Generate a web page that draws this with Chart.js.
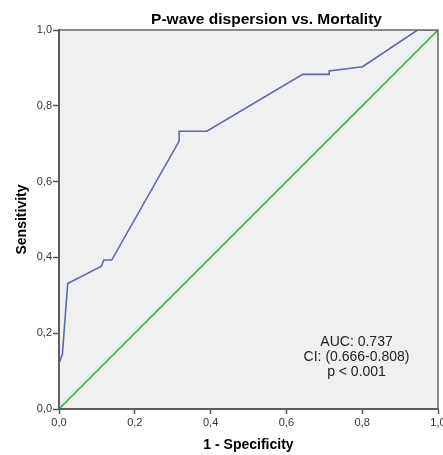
<!DOCTYPE html>
<html>
<head>
	<meta charset="UTF-8">
	<title>P-wave dispersion vs. Mortality</title>
	<script src="https://cdn.jsdelivr.net/npm/chart.js@4"></script>
	<style>
		html, body { margin: 0; padding: 0; background: #ffffff; }
		#wrap { width: 443px; height: 455px; }
	</style>
</head>
<body>
	<div id="wrap"><canvas id="rocChart" width="443" height="455"></canvas></div>
<script>
	// ROC curve (1 - specificity, sensitivity)
	var rocFpr = [0, 0, 0.009, 0.023, 0.112, 0.118, 0.139, 0.317, 0.317, 0.39, 0.643, 0.713, 0.713, 0.801, 0.946, 1.0];
	var rocTpr = [0, 0.12, 0.145, 0.331, 0.377, 0.393, 0.393, 0.707, 0.733, 0.733, 0.883, 0.883, 0.892, 0.903, 1.0, 1.0];
	// reference line
	var refFpr = [0, 1];
	var refTpr = [0, 1];
	var axisTicks = [0, 0.2, 0.4, 0.6, 0.8, 1.0];
	var chartTitle = "P-wave dispersion vs. Mortality";
	var noteLines = ["AUC: 0.737", "CI: (0.666-0.808)", "p < 0.001"];

	function toPoints(xs, ys) {
		var pts = [];
		for (var i = 0; i < xs.length; i++) pts.push({ x: xs[i], y: ys[i] });
		return pts;
	}
	function comma(v) {
		return Number(v).toFixed(1).replace(".", ",");
	}

	var fontFam = "'Liberation Sans', Arial, sans-serif";

	// plot background, frame, title and AUC note
	var decor = {
		id: "decor",
		beforeDraw: function (chart) {
			var a = chart.chartArea, ctx = chart.ctx;
			ctx.save();
			ctx.fillStyle = "#f0f0f0";
			ctx.fillRect(a.left, a.top, a.right - a.left, a.bottom - a.top);
			ctx.restore();
		},
		afterDraw: function (chart) {
			var a = chart.chartArea, ctx = chart.ctx;
			ctx.save();
			ctx.strokeStyle = "#666666";
			ctx.lineWidth = 1.5;
			ctx.strokeRect(a.left, a.top, a.right - a.left, a.bottom - a.top);

			ctx.fillStyle = "#000000";
			ctx.font = "bold 15.5px " + fontFam;
			ctx.textAlign = "center";
			ctx.textBaseline = "middle";
			ctx.fillText(chartTitle, (a.left + a.right) / 2 + 18, 20);

			var xs = chart.scales.x, ys = chart.scales.y;
			ctx.font = "14px " + fontFam;
			ctx.fillStyle = "#222222";
			var cx = xs.getPixelForValue(0.785);
			var cy = ys.getPixelForValue(0.137);
			for (var i = 0; i < noteLines.length; i++) {
				ctx.fillText(noteLines[i], cx, cy + (i - 1) * 15);
			}
			ctx.restore();
		}
	};

	var ctx = document.getElementById("rocChart").getContext("2d");
	var rocChart = new Chart(ctx, {
		type: "scatter",
		data: {
			datasets: [
				{
					data: toPoints(refFpr, refTpr),
					showLine: true,
					borderColor: "#3daf5b",
					borderWidth: 1.6,
					pointRadius: 0,
					tension: 0
				},
				{
					data: toPoints(rocFpr, rocTpr),
					showLine: true,
					borderColor: "#5d69a9",
					borderWidth: 1.6,
					pointRadius: 0,
					tension: 0
				}
			]
		},
		options: {
			responsive: false,
			animation: false,
			devicePixelRatio: 1,
			layout: { padding: { top: 30, left: 0, right: 5, bottom: 0 } },
			plugins: {
				legend: { display: false },
				title: { display: false },
				tooltip: { enabled: false }
			},
			scales: {
				x: {
					type: "linear",
					min: 0,
					max: 1,
					afterBuildTicks: function (s) { s.ticks = axisTicks.map(function (v) { return { value: v }; }); },
					afterFit: function (s) { s.height = 46; s.paddingLeft = 0; s.paddingRight = 0; },
					ticks: {
						callback: comma,
						color: "#333333",
						padding: 2,
						maxRotation: 0,
						font: { family: fontFam, size: 11 }
					},
					grid: { drawOnChartArea: false, drawTicks: true, tickLength: 5, color: "#555555", tickWidth: 1.5 },
					border: { display: true, color: "#444444", width: 2 },
					title: {
						display: true,
						text: "1 - Specificity",
						color: "#000000",
						font: { family: fontFam, size: 14, weight: "bold" },
						padding: { top: 0, bottom: 1 }
					}
				},
				y: {
					type: "linear",
					min: 0,
					max: 1,
					afterBuildTicks: function (s) { s.ticks = axisTicks.map(function (v) { return { value: v }; }); },
					afterFit: function (s) { s.width = 59; s.paddingTop = 0; s.paddingBottom = 0; },
					ticks: {
						callback: comma,
						color: "#333333",
						padding: 1,
						font: { family: fontFam, size: 11 }
					},
					grid: { drawOnChartArea: false, drawTicks: true, tickLength: 6, color: "#555555", tickWidth: 1.5 },
					border: { display: true, color: "#444444", width: 2 },
					title: {
						display: true,
						text: "Sensitivity",
						color: "#000000",
						font: { family: fontFam, size: 14, weight: "bold" },
						padding: { top: 14, bottom: 0 }
					}
				}
			}
		},
		plugins: [decor]
	});
</script>
</body>
</html>
